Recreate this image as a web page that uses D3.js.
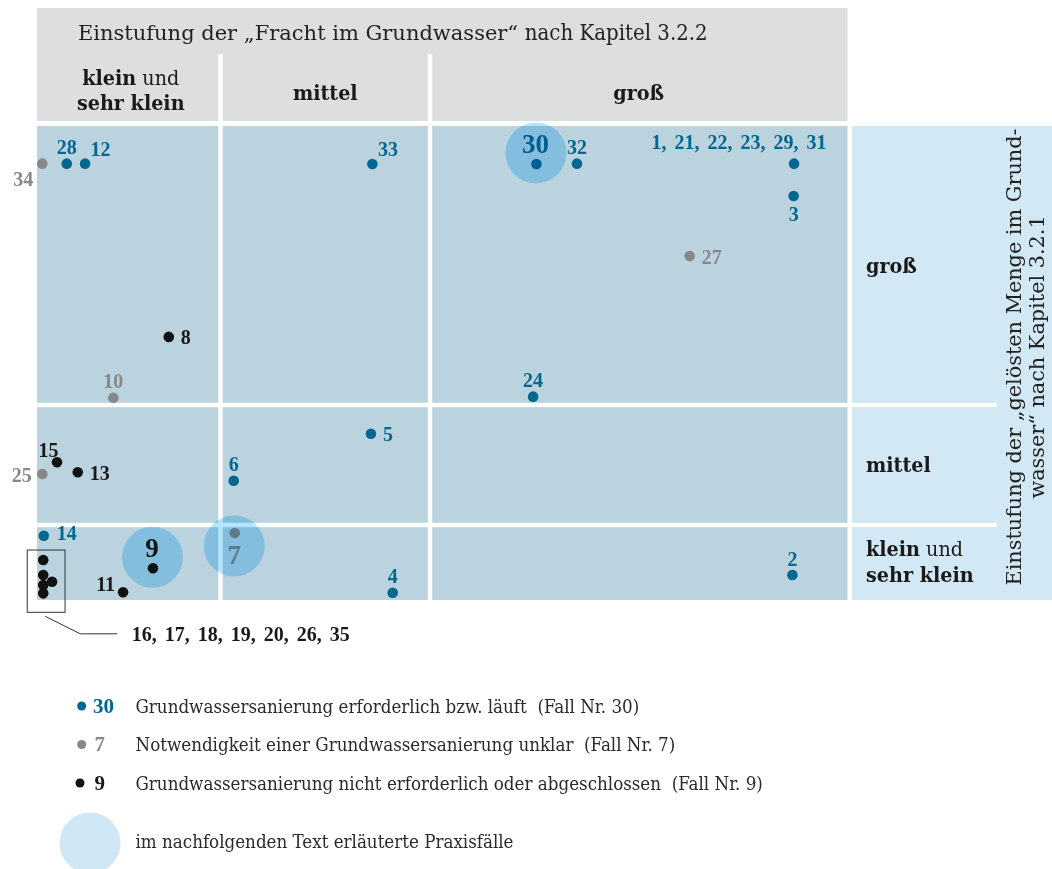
<!DOCTYPE html>
<html lang="de">
<head>
<meta charset="UTF-8">
<title>Einstufung Fracht / gelöste Menge</title>
<script src="https://d3js.org/d3.v7.min.js"></script>
<style>
  body { margin: 0; background: #fff; }
  text { white-space: pre; }
</style>
</head>
<body>
<svg width="1052" height="869"></svg>
<script>

// Klassen der beiden Einstufungen (Position innerhalb einer Klasse k: Wert zwischen k und k+1)
const frachtClasses = ["klein und sehr klein", "mittel", "groß"];
const mengeClasses = ["klein und sehr klein", "mittel", "groß"];

// Grundwassersanierung erforderlich bzw. läuft
const casesLaeuft = [
    { nr: "28", fracht: 0.162, menge: 2.865 },
    { nr: "12", fracht: 0.262, menge: 2.865 },
    { nr: "33", fracht: 1.725, menge: 2.864 },
    { nr: "30", fracht: 2.255, menge: 2.864 },
    { nr: "32", fracht: 2.352, menge: 2.865 },
    { nr: "1, 21, 22, 23, 29, 31", fracht: 2.872, menge: 2.865 },
    { nr: "3", fracht: 2.871, menge: 2.749 },
    { nr: "24", fracht: 2.247, menge: 2.030 },
    { nr: "5", fracht: 1.718, menge: 1.761 },
    { nr: "6", fracht: 1.063, menge: 1.369 },
    { nr: "14", fracht: 0.037, menge: 0.857 },
    { nr: "4", fracht: 1.822, menge: 0.097 },
    { nr: "2", fracht: 2.868, menge: 0.333 }
];

// Notwendigkeit einer Grundwassersanierung unklar
const casesUnklar = [
    { nr: "34", fracht: 0.029, menge: 2.865 },
    { nr: "27", fracht: 2.622, menge: 2.534 },
    { nr: "10", fracht: 0.416, menge: 2.026 },
    { nr: "25", fracht: 0.029, menge: 1.425 },
    { nr: "7", fracht: 1.068, menge: 0.893 }
];

// Grundwassersanierung nicht erforderlich oder abgeschlossen
const casesNicht = [
    { nr: "8", fracht: 0.718, menge: 2.244 },
    { nr: "15", fracht: 0.109, menge: 1.523 },
    { nr: "13", fracht: 0.222, menge: 1.439 },
    { nr: "9", fracht: 0.632, menge: 0.423 },
    { nr: "11", fracht: 0.469, menge: 0.103 }
];

// Gruppe unten links (gemeinsam beschriftet)
const clusterDots = [
    { fracht: 0.034, menge: 0.533 },
    { fracht: 0.034, menge: 0.333 },
    { fracht: 0.082, menge: 0.244 },
    { fracht: 0.034, menge: 0.200 },
    { fracht: 0.034, menge: 0.089 }
];
const clusterLabel = "16, 17, 18, 19, 20, 26, 35";

// im Text erläuterte Praxisfälle
const highlighted = ["30", "9", "7"];

const legendItems = [
    { status: "laeuft", nr: "30", text: "Grundwassersanierung erforderlich bzw. läuft  (Fall Nr. 30)" },
    { status: "unklar", nr: "7", text: "Notwendigkeit einer Grundwassersanierung unklar  (Fall Nr. 7)" },
    { status: "nicht", nr: "9", text: "Grundwassersanierung nicht erforderlich oder abgeschlossen  (Fall Nr. 9)" }
];
const legendCircleText = "im nachfolgenden Text erläuterte Praxisfälle";

// Beschriftungsposition je Fall
const labelSide = {
    "28": "top", "12": "topRight", "33": "topRight", "30": "topBig", "32": "top",
    "1, 21, 22, 23, 29, 31": "group", "3": "bottom", "24": "top", "5": "right",
    "6": "top", "14": "rightLow", "4": "top", "2": "top",
    "34": "leftBelow", "27": "right", "10": "top", "25": "left", "7": "bottomBig",
    "8": "right", "15": "topLeft", "13": "right", "9": "topBig", "11": "leftHigh"
};

const colors = { laeuft: "#00678f", unklar: "#86888a", nicht: "#111111" };
const serif = "'DejaVu Serif', serif";
const serifCond = "'DejaVu Serif Condensed', 'DejaVu Serif', serif";
const numFont = "'Liberation Serif', serif";

const svg = d3.select("svg");

const x = d3.scaleLinear().domain([0, 1, 2, 3]).range([37, 220.5, 430, 847.5]);
const y = d3.scaleLinear().domain([0, 1, 2, 3]).range([600, 525, 405, 126]);
const gap = 2.2;

// Kopfbereich
svg.append("rect")
   .attr("x", x(0)).attr("y", 8)
   .attr("width", x(3) - x(0)).attr("height", 113)
   .attr("fill", "#dcdee0");

svg.append("text")
   .attr("x", 78).attr("y", 39.5)
   .attr("fill", "#222")
   .call(t => {
       t.append("tspan").style("font-family", serif).style("font-size", "21px")
        .text("Einstufung der „Fracht im Grundwasser“ ");
       t.append("tspan").style("font-family", serifCond).style("font-size", "22px")
        .text("nach Kapitel 3.2.2");
   });

// Zellen
const cells = d3.cross(d3.range(3), d3.range(3));
svg.selectAll("rect.cell")
   .data(cells)
   .enter()
   .append("rect")
   .attr("class", "cell")
   .attr("x", d => x(d[0]) + (d[0] > 0 ? gap : 0))
   .attr("width", d => x(d[0] + 1) - x(d[0]) - (d[0] > 0 ? gap : 0) - (d[0] < 2 ? gap : 0))
   .attr("y", d => y(d[1] + 1) + (d[1] < 2 ? gap : 0))
   .attr("height", d => y(d[1]) - y(d[1] + 1) - (d[1] < 2 ? gap : 0) - (d[1] > 0 ? gap : 0))
   .attr("fill", "#bbd3de");

// weiße Trennlinien im Kopf
svg.selectAll("rect.hsep")
   .data([1, 2])
   .enter()
   .append("rect")
   .attr("x", d => x(d) - gap).attr("y", 54)
   .attr("width", gap * 2).attr("height", 72)
   .attr("fill", "#fff");

// Spaltenbeschriftungen
const colLabel = svg.selectAll("g.collabel")
   .data(frachtClasses)
   .enter()
   .append("g")
   .attr("transform", (d, i) => `translate(${(x(i) + x(i + 1)) / 2 + (i === 0 ? 2 : 0)},0)`);

function classLabel(sel, d, lines) {
    if (d === "klein und sehr klein") {
        sel.append("text").attr("y", lines[0]).call(t => {
            t.append("tspan").style("font-weight", "bold").text("klein");
            t.append("tspan").text(" und");
        });
        sel.append("text").attr("y", lines[1]).style("font-weight", "bold").text("sehr klein");
    } else {
        sel.append("text").attr("y", lines[2]).style("font-weight", "bold").text(d);
    }
}

colLabel.each(function(d) {
    const g = d3.select(this)
                .attr("text-anchor", "middle")
                .style("font-family", serifCond)
                .style("font-size", "21.3px")
                .attr("fill", "#1a1a1a");
    classLabel(g, d, [85, 110, 100]);
});

// rechte Spalte
svg.append("rect")
   .attr("x", 852).attr("y", y(3))
   .attr("width", 200).attr("height", y(0) - y(3))
   .attr("fill", "#d2e8f4");

svg.selectAll("rect.vsep")
   .data([1, 2])
   .enter()
   .append("rect")
   .attr("x", 852).attr("y", d => y(d) - 2)
   .attr("width", 145).attr("height", 4)
   .attr("fill", "#fff");

const rowLabel = svg.selectAll("g.rowlabel")
   .data(mengeClasses)
   .enter()
   .append("g")
   .attr("transform", (d, i) => `translate(866,${(y(i) + y(i + 1)) / 2})`);

rowLabel.each(function(d) {
    const g = d3.select(this)
                .style("font-family", serifCond)
                .style("font-size", "21.3px")
                .attr("fill", "#1a1a1a");
    classLabel(g, d, [-6.5, 19.5, 7]);
});

// senkrechter Achsentitel (zwei zentrierte Zeilen)
const vt = svg.append("g")
   .attr("fill", "#222")
   .attr("text-anchor", "middle")
   .style("font-family", serif)
   .style("font-size", "20.8px");
vt.append("text")
   .attr("transform", "translate(1021,357) rotate(-90)")
   .text("Einstufung der „gelösten Menge im Grund-");
vt.append("text")
   .attr("transform", "translate(1044,357) rotate(-90)")
   .text("wasser“ nach Kapitel 3.2.1");

// Punkte
const cases = [
    ...casesLaeuft.map(d => ({ ...d, status: "laeuft" })),
    ...casesUnklar.map(d => ({ ...d, status: "unklar" })),
    ...casesNicht.map(d => ({ ...d, status: "nicht" }))
];

svg.selectAll("circle.dot")
   .data(cases)
   .enter()
   .append("circle")
   .attr("class", "dot")
   .attr("cx", d => x(d.fracht))
   .attr("cy", d => y(d.menge))
   .attr("r", 5.3)
   .attr("fill", d => colors[d.status]);

svg.selectAll("circle.cluster")
   .data(clusterDots)
   .enter()
   .append("circle")
   .attr("class", "cluster")
   .attr("cx", d => x(d.fracht))
   .attr("cy", d => y(d.menge))
   .attr("r", 5.3)
   .attr("fill", colors.nicht);

// Beschriftungen
const place = {
    top:       { dx: 0,   dy: -9.5, anchor: "middle", size: 20 },
    topBig:    { dx: -1,  dy: -11,  anchor: "middle", size: 27 },
    topRight:  { dx: 5.5, dy: -8,   anchor: "start",  size: 20 },
    right:     { dx: 12,  dy: 7.5,  anchor: "start",  size: 20 },
    rightLow:  { dx: 13,  dy: 4.5,  anchor: "start",  size: 20 },
    left:      { dx: -10.5, dy: 7.5, anchor: "end",   size: 20 },
    leftHigh:  { dx: -8,  dy: -1.5, anchor: "end",    size: 20 },
    leftBelow: { dx: -9,  dy: 22,   anchor: "end",    size: 20 },
    topLeft:   { dx: 1.5, dy: -5,   anchor: "end",    size: 20 },
    bottom:    { dx: 0,   dy: 25,   anchor: "middle", size: 20 },
    bottomBig: { dx: -0.5, dy: 31,  anchor: "middle", size: 27 },
    group:     { dx: 32.5, dy: -14.5, anchor: "end",  size: 20 }
};

svg.selectAll("text.nr")
   .data(cases)
   .enter()
   .append("text")
   .attr("class", "nr")
   .attr("x", d => x(d.fracht) + place[labelSide[d.nr]].dx)
   .attr("y", d => y(d.menge) + place[labelSide[d.nr]].dy)
   .attr("text-anchor", d => place[labelSide[d.nr]].anchor)
   .style("font-family", numFont)
   .style("font-weight", "bold")
   .style("font-size", d => place[labelSide[d.nr]].size + "px")
   .style("word-spacing", "3px")
   .attr("fill", d => d.status === "nicht" ? "#1a1a1a" : colors[d.status])
   .text(d => d.nr);

// hervorgehobene Praxisfälle
svg.selectAll("circle.hl")
   .data(cases.filter(d => highlighted.includes(d.nr)))
   .enter()
   .append("circle")
   .attr("class", "hl")
   .attr("cx", d => x(d.fracht) - 0.5)
   .attr("cy", d => y(d.menge) + (labelSide[d.nr] === "bottomBig" ? 13 : -11))
   .attr("r", 30.5)
   .attr("fill", "rgb(180,230,255)")
   .style("mix-blend-mode", "multiply");

// Kasten um die Gruppe
const cx0 = d3.min(clusterDots, d => x(d.fracht)), cx1 = d3.max(clusterDots, d => x(d.fracht));
const cy0 = d3.min(clusterDots, d => y(d.menge)), cy1 = d3.max(clusterDots, d => y(d.menge));
const bx = cx0 - 16, by = cy1 + 19;
svg.append("rect")
   .attr("x", bx).attr("y", cy0 - 10)
   .attr("width", cx1 + 13 - bx).attr("height", by - (cy0 - 10))
   .attr("fill", "none")
   .attr("stroke", "#333")
   .attr("stroke-width", 1);
svg.append("path")
   .attr("d", d3.line()([[bx + 18, by + 4], [bx + 53, by + 21.5], [bx + 90, by + 21.5]]))
   .attr("fill", "none")
   .attr("stroke", "#333")
   .attr("stroke-width", 1);
svg.append("text")
   .attr("x", bx + 104.5).attr("y", by + 28.5)
   .style("font-family", numFont)
   .style("font-weight", "bold")
   .style("font-size", "20px")
   .style("word-spacing", "3px")
   .attr("fill", "#1a1a1a")
   .text(clusterLabel);

// Legende
const legend = svg.selectAll("g.legend")
   .data(legendItems)
   .enter()
   .append("g")
   .attr("transform", (d, i) => `translate(0,${712.5 + i * 38.5})`);

legend.append("circle")
   .attr("cx", (d, i) => i === 2 ? 80 : 81.7)
   .attr("cy", -6.5)
   .attr("r", 4.5)
   .attr("fill", d => colors[d.status]);

legend.append("text")
   .attr("x", d => d.nr.length > 1 ? 93 : 94.5)
   .style("font-family", numFont)
   .style("font-weight", "bold")
   .style("font-size", "21px")
   .attr("fill", d => d.status === "nicht" ? "#1a1a1a" : colors[d.status])
   .text(d => d.nr);

legend.append("text")
   .attr("x", 135.5)
   .style("font-family", serifCond)
   .style("font-size", "18.6px")
   .attr("fill", "#2a2a2a")
   .text(d => d.text);

svg.append("circle")
   .attr("cx", 90).attr("cy", 843)
   .attr("r", 30.5)
   .attr("fill", "#d0e8f5");

svg.append("text")
   .attr("x", 135.5).attr("y", 848)
   .style("font-family", serifCond)
   .style("font-size", "18.6px")
   .attr("fill", "#2a2a2a")
   .text(legendCircleText);

</script>
</body>
</html>
